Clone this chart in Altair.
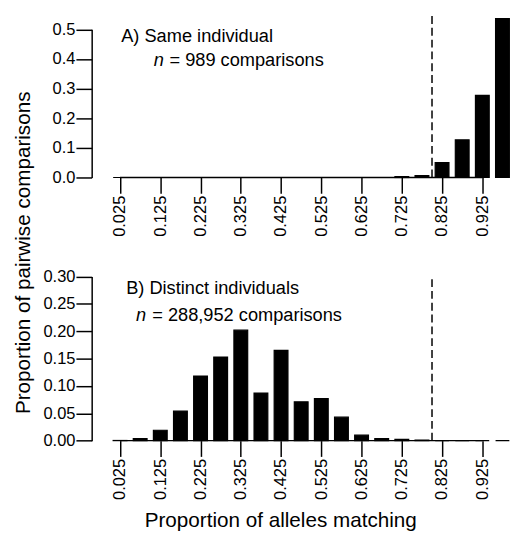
import altair as alt
import pandas as pd

# ---- data ----
bin_centers = [0.025, 0.075, 0.125, 0.175, 0.225, 0.275, 0.325, 0.375, 0.425, 0.475,
               0.525, 0.575, 0.625, 0.675, 0.725, 0.775, 0.825, 0.875, 0.925, 0.975]
same_individual = [0, 0, 0, 0, 0, 0, 0, 0, 0, 0,
                   0, 0, 0, 0, 0.003, 0.006, 0.050, 0.127, 0.277, 0.536]
distinct_individuals = [0.0003, 0.0036, 0.019, 0.054, 0.118, 0.153, 0.202, 0.087, 0.165, 0.071,
                        0.077, 0.043, 0.010, 0.0036, 0.0024, 0.001, 0, 0, 0, 0]
x_ticks = [0.025, 0.125, 0.225, 0.325, 0.425, 0.525, 0.625, 0.725, 0.825, 0.925]
y_ticks_a = [0.0, 0.1, 0.2, 0.3, 0.4, 0.5]
y_ticks_b = [0.0, 0.05, 0.10, 0.15, 0.20, 0.25, 0.30]
threshold = 0.8
label_a = "A) Same individual"
n_a = "= 989 comparisons"
label_b = "B) Distinct individuals"
n_b = "= 288,952 comparisons"
x_title = "Proportion of alleles matching"
y_title = "Proportion of pairwise comparisons"

FONT = "Liberation Sans"
W, H = 431, 527

xscale = alt.Scale(domain=[x_ticks[0], x_ticks[-1]], range=[23.8, 401.8], nice=False, zero=False)
yscale_a = alt.Scale(domain=[0, 0.5], range=[168, 17.5], nice=False, zero=False)
yscale_b = alt.Scale(domain=[0, 0.3], range=[435.3, 268.7], nice=False, zero=False)

dummy = pd.DataFrame({"d": [0]})


def x_axis(offset):
    return alt.Axis(values=x_ticks, format=".3f", labelAngle=-90, orient="bottom", offset=offset,
                    domain=False, ticks=True, tickSize=16, tickWidth=1.5, tickColor="black",
                    labels=True, labelColor="black", labelFont=FONT, labelFontSize=16.7,
                    labelPadding=2, title=None, grid=False, labelOverlap=False,
                    labelBound=False, labelFlush=False)


def y_axis(values, fmt):
    return alt.Axis(values=values, format=fmt, orient="left", domain=True, domainColor="black",
                    domainWidth=1.5, ticks=True, tickSize=16, tickWidth=1.5, tickColor="black",
                    labels=True, labelColor="black", labelFont=FONT, labelFontSize=16.7,
                    labelPadding=1, title=None, grid=False, labelOverlap=False,
                    labelBound=False, labelFlush=False)


def panel(values, yscale, yticks, fmt, axis_y, dash_top):
    df = pd.DataFrame({"center": bin_centers, "prop": values})
    bars = alt.Chart(df).mark_bar(size=14, color="black", stroke="black", strokeWidth=1.2).encode(
        x=alt.X("center:Q", scale=xscale, axis=x_axis(axis_y - H)),
        y=alt.Y("prop:Q", scale=yscale, axis=y_axis(yticks, fmt)),
    )
    base = alt.Chart(dummy).mark_rule(color="black", strokeWidth=1.5).encode(
        x=alt.X(datum=x_ticks[0], type="quantitative", scale=xscale, axis=None),
        x2=alt.X2(datum=x_ticks[-1]),
        y=alt.Y(datum=0, type="quantitative", scale=yscale, axis=None),
    )
    dash = alt.Chart(dummy).mark_rule(color="black", strokeWidth=1.5, strokeDash=[8, 4]).encode(
        x=alt.X(datum=threshold, type="quantitative", scale=xscale, axis=None),
        y=alt.Y(datum=0, type="quantitative", scale=yscale, axis=None),
        y2=alt.Y2(datum=dash_top),
    )
    return [bars, base, dash]


def label(text, x, y, size=18.5, italic=False, align="left", angle=0):
    kw = dict(text=text, font=FONT, fontSize=size, color="black", align=align,
              baseline="alphabetic")
    if italic:
        kw["fontStyle"] = "italic"
    if angle:
        kw["angle"] = angle
    return alt.Chart(dummy).mark_text(**kw).encode(x=alt.value(x), y=alt.value(y))


layers_a = panel(same_individual, yscale_a, y_ticks_a, ".1f", 168, 0.55)
layers_b = panel(distinct_individuals, yscale_b, y_ticks_b, ".2f", 435.3, 0.30)

texts = [
    label(label_a, 30, 30.3),
    label("n", 63, 54.7, italic=True),
    label(n_a, 79, 54.7),
    label(label_b, 35, 286),
    label("n", 45, 314, italic=True),
    label(n_b, 61.5, 314),
    label(x_title, 192, 523, size=21, align="center"),
    label(y_title, -63, 244.5, size=21, align="center", angle=270),
]

chart = alt.layer(*layers_a, *layers_b, *texts).resolve_scale(
    y="independent"
).resolve_axis(
    x="independent", y="independent"
).properties(
    width=W, height=H,
    autosize=alt.AutoSizeParams(type="none"),
    padding={"left": 85, "top": 0, "right": 0, "bottom": 0},
).configure_view(stroke=None)

chart.save("out.html", embed_options={"renderer": "svg", "actions": False})
